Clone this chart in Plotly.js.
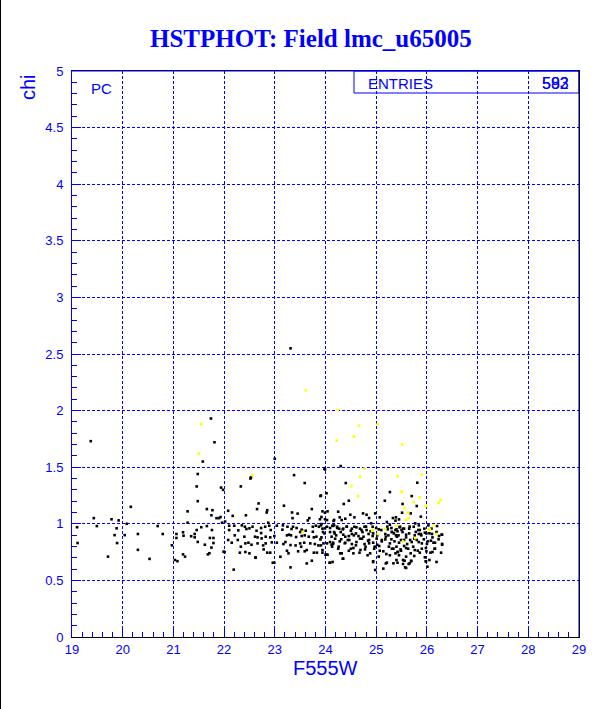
<!DOCTYPE html>
<html>
<head>
<meta charset="utf-8">
<script src="https://cdn.plot.ly/plotly-3.0.1.min.js"></script>
<style>
html,body{margin:0;padding:0;background:#fff;}
#chart{position:absolute;left:0;top:0;width:612px;height:709px;}
#edge{position:absolute;left:0;top:0;width:1px;height:709px;background:#000;z-index:5;}
</style>
</head>
<body>
<div id="chart"></div>
<div id="edge"></div>
<script>
// ---- data (F555W magnitude, chi) ----
const titleText = "HSTPHOT: Field lmc_u65005";
const xTitle = "F555W";
const yTitle = "chi";
const statLabel = "ENTRIES";
const statValue = "592";
const statValue2 = "583";
const tagText = "PC";

const black_19_22 = [
[19.37,1.73],[21.74,1.93],[21.81,1.72],[21.58,1.55],[21.48,1.44],[21.46,1.33],[21.48,1.20],[21.28,1.11],[21.66,1.13],[21.77,1.12],
[21.75,1.075],[21.90,1.05],[20.16,1.15],[19.43,1.05],[19.78,1.04],[19.92,1.03],[20.08,1.00],[19.10,0.97],[19.49,0.98],[19.88,0.96],
[20.69,0.98],[21.28,1.01],[21.46,0.945],[21.55,0.97],[21.66,0.98],[21.76,0.945],[19.84,0.90],[20.04,0.90],[20.30,0.91],[20.79,0.91],
[21.06,0.91],[21.06,0.875],[21.20,0.895],[21.35,0.89],[21.42,0.91],[21.42,0.88],[21.19,0.925],[21.72,0.875],[21.79,0.875],[19.11,0.83],
[19.89,0.83],[21.48,0.84],[21.79,0.83],[21.62,0.815],[20.97,0.81],[21.75,0.79],[20.30,0.77],[21.19,0.73],[21.23,0.71],[21.68,0.73],
[21.71,0.74],[19.71,0.71],[20.53,0.69],[21.03,0.68],[21.08,0.67],[21.94,1.32],[21.98,1.30],[22.01,0.75]
];

const black_22_24 = [
[23.31,2.55],[23.00,1.575],[22.53,1.41],[23.38,1.43],[23.59,1.36],[22.33,1.33],[23.99,1.48],[24.02,1.27],[23.91,1.25],[22.68,1.18],
[22.65,1.13],[22.85,1.12],[22.84,1.10],[23.18,1.16],[23.34,1.10],[23.73,1.13],[24.04,1.11],[21.93,1.06],[21.85,1.05],[22.17,1.07],
[22.43,1.075],[22.08,1.115],[22.87,1.01],[21.96,1.01],[22.02,1.02],[23.35,1.05],[23.65,1.03],[23.68,1.05],[23.92,1.06],[23.89,1.04],
[23.99,1.04],[23.45,1.09],[24.16,1.025],[22.19,0.595],[22.52,1.40],[22.62,0.70],
[22.10,0.983],[22.20,0.983],[22.35,0.986],[22.41,0.974],[22.50,0.960],[22.56,0.974],[22.73,0.963],[22.81,0.974],[22.89,0.983],[23.04,0.983],
[23.16,0.986],[23.25,0.974],[23.36,0.974],[23.43,0.963],[23.53,0.948],[23.54,0.939],[23.75,0.974],[23.81,0.983],[23.87,0.974],[23.91,0.986],
[23.99,0.960],[24.09,0.963],[24.14,0.983],
[22.10,0.945],[22.28,0.942],[22.44,0.954],[22.64,0.939],[22.73,0.918],[22.92,0.945],[23.15,0.948],[23.33,0.954],[23.50,0.927],[23.61,0.939],
[23.75,0.930],[23.95,0.927],[24.17,0.927],
[22.21,0.898],[22.40,0.886],[22.61,0.886],[22.66,0.880],[22.74,0.871],[22.82,0.886],[22.91,0.880],[22.99,0.892],[23.24,0.898],[23.28,0.904],
[23.32,0.898],[23.42,0.883],[23.53,0.892],[23.59,0.898],[23.67,0.886],[23.77,0.880],[23.82,0.886],[23.92,0.880],
[22.08,0.857],[22.15,0.833],[22.27,0.857],[22.33,0.798],[22.42,0.827],[22.48,0.833],[22.54,0.815],[22.66,0.827],[22.77,0.809],[22.82,0.827],
[22.94,0.836],[23.04,0.833],[23.17,0.821],[23.21,0.839],[23.31,0.812],[23.41,0.809],[23.50,0.827],[23.58,0.833],[23.70,0.827],[23.79,0.821],
[23.86,0.809],[23.91,0.809],[24.03,0.827],[24.12,0.815],[24.15,0.833],
[21.99,0.754],[22.31,0.745],[22.42,0.751],[22.50,0.739],[22.78,0.774],[22.85,0.745],[22.91,0.745],[23.24,0.762],[23.27,0.739],[23.46,0.757],
[23.52,0.798],[23.59,0.757],[23.63,0.768],[23.77,0.745],[23.83,0.745],[23.94,0.745],[24.00,0.727],[24.04,0.727],
[22.62,0.703],[23.11,0.709],[22.99,0.656],[23.31,0.615],[23.63,0.650],[23.73,0.674],[24.08,0.656],[22.96,0.656]
];

const black_24_26 = [
[24.30,1.51],[23.98,1.487],[24.40,1.36],[23.90,1.245],[24.46,1.204],[24.36,1.175],[25.27,1.28],[25.17,1.204],[25.81,1.363],[25.70,1.245],
[25.52,1.175],[25.80,1.157],[25.88,1.063],[25.68,1.092],[25.51,1.098],[24.74,1.092],[24.81,1.08],[25.07,1.057],[25.39,1.057],[25.45,1.039],
[24.49,1.08],[24.57,1.057],[24.28,1.057],[23.99,1.098],[23.94,1.11],[24.03,1.033],[23.92,0.998],[24.17,0.986],[24.32,1.033],[24.90,1.004],
[25.27,0.992],[25.77,1.004],[25.84,0.986],[26.03,0.986],[26.20,0.98],[26.30,0.904],
[24.25,1.107],[24.98,1.092],[24.17,1.034],[24.39,1.045],[24.86,1.051],[25.21,1.016],[25.38,1.028],[25.33,1.051],
[23.94,0.957],[24.03,0.974],[24.23,0.974],[24.27,0.957],[24.35,0.957],[24.42,0.974],[24.52,0.957],[24.57,0.974],[24.68,0.957],[24.77,0.974],
[24.81,0.945],[24.93,0.974],[25.05,0.951],[25.23,0.951],[25.30,0.963],[25.38,0.945],[25.47,0.974],[25.53,0.957],[25.65,0.957],[25.74,0.974],
[25.86,0.945],[25.95,0.957],[26.09,0.957],
[23.98,0.915],[24.09,0.927],[24.18,0.915],[24.30,0.927],[24.35,0.904],[24.46,0.892],[24.52,0.910],[24.60,0.915],[24.65,0.892],[24.73,0.927],
[24.85,0.910],[24.94,0.915],[25.02,0.898],[25.18,0.910],[25.24,0.898],[25.31,0.927],[25.35,0.915],[25.44,0.898],[25.52,0.927],[25.59,0.904],
[25.65,0.915],[25.76,0.898],[25.84,0.910],[25.89,0.898],[25.99,0.915],[26.10,0.910],
[23.90,0.862],[23.96,0.827],[24.09,0.839],[24.19,0.868],[24.28,0.845],[24.39,0.833],[24.44,0.857],[24.52,0.821],[24.61,0.839],[24.72,0.868],
[24.77,0.821],[24.86,0.857],[24.94,0.833],[25.02,0.815],[25.11,0.845],[25.18,0.862],[25.27,0.827],[25.36,0.845],[25.45,0.833],[25.55,0.857],
[25.61,0.821],[25.70,0.839],[25.80,0.857],[25.90,0.827],[26.02,0.845],[26.13,0.833],[26.30,0.815],
[23.94,0.768],[24.02,0.727],[24.13,0.798],[24.25,0.780],[24.32,0.739],[24.46,0.762],[24.55,0.786],[24.67,0.745],[24.78,0.774],[24.88,0.739],
[24.97,0.798],[25.07,0.762],[25.20,0.733],[25.31,0.780],[25.42,0.751],[25.49,0.762],[25.59,0.786],[25.68,0.739],[25.76,0.768],[25.86,0.745],
[25.98,0.786],[26.11,0.751],[26.16,0.780],[26.28,0.745],
[24.09,0.656],[24.34,0.692],[24.94,0.662],[25.19,0.650],[25.42,0.656],[25.56,0.674],[25.64,0.645],[25.57,0.615],[25.98,0.668],[24.98,0.592],
[25.69,0.674],[26.01,0.621],[26.19,0.663],
[24.14,0.981],[24.23,0.963],[24.34,0.951],[24.42,0.975],[24.50,0.939],[24.61,0.969],[24.71,0.945],[24.80,0.975],[24.89,0.934],[25.00,0.963],
[25.10,0.945],[25.22,0.975],[25.31,0.928],[25.40,0.951],
[24.12,0.886],[24.21,0.898],[24.31,0.863],[24.39,0.886],[24.47,0.857],[24.56,0.898],[24.68,0.869],[24.75,0.886],[24.84,0.851],[24.93,0.892],
[25.01,0.869],[25.11,0.857],[25.19,0.886],[25.30,0.863],[25.39,0.898],
[24.15,0.822],[24.26,0.798],[24.38,0.828],[24.50,0.780],[24.60,0.810],[24.69,0.769],[24.79,0.798],[24.86,0.828],[24.96,0.780],[25.06,0.804],
[25.14,0.757],[25.25,0.798],[25.34,0.780],[25.43,0.751],
[24.29,0.739],[24.55,0.739],[24.83,0.722],[25.05,0.710],[25.27,0.722],[25.40,0.680],[24.14,0.663],[24.35,0.692],[24.94,0.669],[25.21,0.657],
[25.34,0.651],[25.14,0.604],
[25.46,0.969],[25.42,0.934],[25.50,0.945],[25.55,0.957],[25.66,0.975],[25.78,0.928],[25.83,0.945],[25.88,0.910],[25.96,0.922],[26.05,0.916],
[26.11,0.880],[26.19,0.928],[26.24,0.892],[26.29,0.904],
[25.41,0.886],[25.49,0.857],[25.59,0.880],[25.67,0.857],[25.75,0.869],[25.84,0.839],[25.94,0.863],[26.00,0.822],[26.08,0.851],[26.16,0.833],
[26.23,0.863],[26.30,0.822],
[25.40,0.798],[25.48,0.774],[25.55,0.804],[25.63,0.780],[25.73,0.798],[25.82,0.763],[25.90,0.780],[25.99,0.757],[26.07,0.745],[26.15,0.780],
[25.38,0.739],[25.45,0.722],[25.53,0.680],[25.59,0.710],[25.69,0.669],[25.75,0.716],[25.96,0.704],[26.05,0.680],[25.53,0.645],[25.66,0.651],
[25.59,0.610],[25.98,0.669]
];

const yellowPts = [
[21.55,1.88],[21.50,1.62],[22.56,1.43],[23.61,2.18],[24.24,2.005],[24.66,1.867],[25.03,1.878],[24.56,1.77],[24.22,1.734],[25.51,1.70],
[24.77,1.487],[24.68,1.416],[25.42,1.42],[25.90,1.434],[24.51,1.334],[24.64,1.245],[25.51,1.28],[25.74,1.192],[25.86,1.233],[25.98,1.157],
[26.27,1.21],[26.23,1.186],[25.56,1.139],[25.63,1.098],[25.64,1.051],[25.59,1.033],[25.40,0.986],[25.17,0.957],[25.03,0.91],[24.93,0.939],
[26.13,0.986],[26.03,0.951],[26.19,0.91],[25.77,0.874],[25.53,0.845],[23.55,0.93],[26.06,0.95],[25.50,1.284],[25.99,1.16],[24.92,0.94]
];

const xRange = [19, 29];
const yRange = [0, 5];

// ---- build ----
const blackAll = black_19_22.concat(black_22_24, black_24_26);
const BLUE = "#0000ff";
const tickFont = {family: "Liberation Sans, Arial, sans-serif", size: 13, color: BLUE};

const traces = [
  {type: "scatter", mode: "markers", x: blackAll.map(p => p[0]), y: blackAll.map(p => p[1]),
   marker: {symbol: "square", size: 2.6, color: "#000000", line: {width: 0}}, hoverinfo: "skip"},
  {type: "scatter", mode: "markers", x: yellowPts.map(p => p[0]), y: yellowPts.map(p => p[1]),
   marker: {symbol: "square", size: 2.6, color: "#ffff00", line: {width: 0}}, hoverinfo: "skip"}
];

function axisCommon() {
  return {
    showgrid: true, gridcolor: BLUE, gridwidth: 1, griddash: "3px,2px",
    zeroline: false, showline: true, mirror: true,
    ticks: "inside", ticklen: 9, tickwidth: 1, tickcolor: BLUE,
    tickfont: tickFont, fixedrange: true
  };
}

const layout = {
  width: 612, height: 709,
  margin: {l: 72, r: 33, t: 71, b: 72, pad: 0},
  paper_bgcolor: "#ffffff", plot_bgcolor: "#ffffff",
  showlegend: false,
  title: {text: "<b>" + titleText + "</b>", x: 0.508, xref: "container", xanchor: "center",
          y: 1 - 38/709, yref: "container", yanchor: "middle",
          font: {family: "Liberation Serif, Times New Roman, serif", size: 25, color: BLUE}},
  xaxis: Object.assign(axisCommon(), {range: xRange, tick0: 19, dtick: 1, linecolor: "#000000",
          minor: {dtick: 0.2, ticks: "inside", ticklen: 5, tickcolor: BLUE, showgrid: false}}),
  yaxis: Object.assign(axisCommon(), {range: yRange, tick0: 0, dtick: 0.5, linecolor: BLUE,
          ticklabelstandoff: 5,
          minor: {dtick: 0.1, ticks: "inside", ticklen: 5, tickcolor: BLUE, showgrid: false}}),
  shapes: [
    {type: "rect", xref: "paper", yref: "paper", x0: (354-72)/507, x1: 1, y0: (637-93)/566, y1: 1,
     line: {color: BLUE, width: 1}, fillcolor: "rgba(0,0,0,0)", layer: "above"},
    {type: "line", xref: "paper", yref: "paper", x0: 0, x1: 1, y0: 1, y1: 1, line: {color: BLUE, width: 1}, layer: "above"},
    {type: "line", xref: "paper", yref: "paper", x0: 1, x1: 1, y0: 0, y1: 1, line: {color: "#000000", width: 1}, layer: "above"}
  ],
  annotations: [
    {text: xTitle, xref: "paper", yref: "paper", x: 0.5, y: 0, xanchor: "center", yanchor: "top", yshift: -18,
     showarrow: false, font: {family: "Liberation Sans, Arial, sans-serif", size: 20, color: BLUE}},
    {text: yTitle, xref: "paper", yref: "paper", x: (28-72)/507, y: (637-87)/566, xanchor: "center", yanchor: "middle",
     textangle: -90, showarrow: false, font: {family: "Liberation Sans, Arial, sans-serif", size: 20, color: BLUE}},
    {text: statLabel, xref: "paper", yref: "paper", x: (366-72)/507, y: (637-83)/566, xanchor: "left", yanchor: "middle",
     showarrow: false, font: {family: "Liberation Sans, Arial, sans-serif", size: 15, color: BLUE}},
    {text: statValue, xref: "paper", yref: "paper", x: (571-72)/507, y: (637-83)/566, xanchor: "right", yanchor: "middle",
     showarrow: false, font: {family: "Liberation Sans, Arial, sans-serif", size: 16, color: BLUE}},
    {text: statValue2, xref: "paper", yref: "paper", x: (571-72)/507, y: (637-83)/566, xanchor: "right", yanchor: "middle",
     showarrow: false, font: {family: "Liberation Sans, Arial, sans-serif", size: 16, color: BLUE}},
    {text: tagText, xref: "paper", yref: "paper", x: (89-72)/507, y: (637-88)/566, xanchor: "left", yanchor: "middle",
     showarrow: false, font: {family: "Liberation Sans, Arial, sans-serif", size: 15, color: BLUE}}
  ]
};

Plotly.newPlot("chart", traces, layout, {staticPlot: true, displayModeBar: false});
</script>
</body>
</html>
